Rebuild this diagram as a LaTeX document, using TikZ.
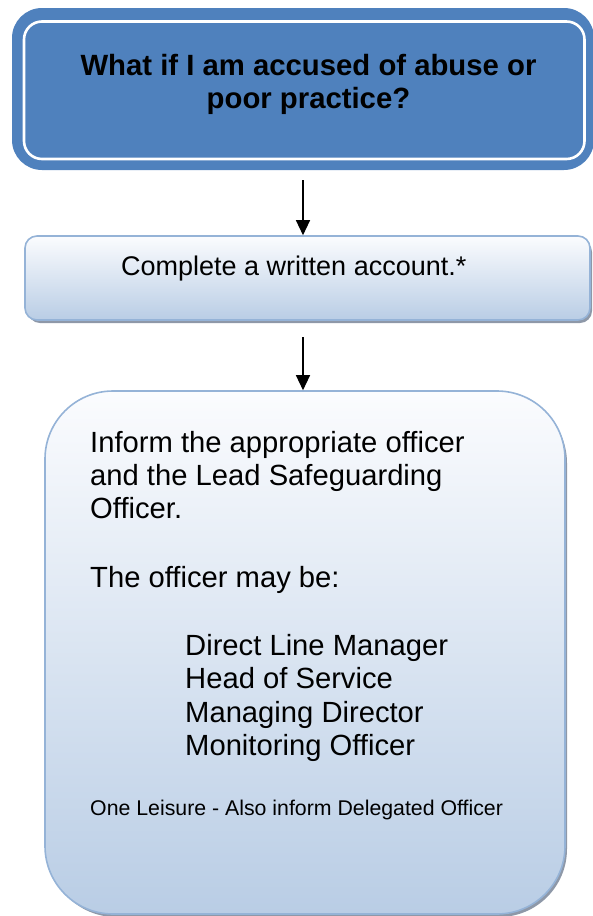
\documentclass[tikz,border=0pt]{standalone}
\usepackage{fontspec}
\setmainfont{Liberation Sans}
\usetikzlibrary{arrows.meta}
\definecolor{hdrblue}{HTML}{4F81BD}
\definecolor{edgeblue}{HTML}{95B3D7}
\definecolor{lowblue}{HTML}{B9CDE5}
\definecolor{topwhite}{HTML}{FBFCFE}
\definecolor{shadowgrey}{HTML}{8E98A8}
\tikzset{
  flowarrow/.style={line width=1.3pt, -{Triangle[length=15pt,width=14pt]}},
  lightbox/.style={draw=edgeblue, line width=1.6pt, top color=topwhite, bottom color=lowblue, inner sep=0pt},
  shadowfill/.style={fill=shadowgrey},
  titletext/.style={anchor=base, inner sep=0pt, font=\fontsize{29.3}{33}\selectfont\bfseries},
  bodytext/.style={anchor=base west, inner sep=0pt, font=\fontsize{29.2}{33}\selectfont},
  smalltext/.style={anchor=base west, inner sep=0pt, font=\fontsize{21.3}{24}\selectfont}
}
\begin{document}
\begin{tikzpicture}[x=1pt,y=-1pt]
\useasboundingbox (0,0) rectangle (593,916);
% header box
\node[fill=hdrblue, rounded corners=30pt, minimum width=582pt, minimum height=162pt, inner sep=0pt] (q) at (303,89) {};
\draw[white, line width=2.6pt, rounded corners=18pt] (24,21.5) rectangle (584.5,159);
\node[titletext] (q1) at (308.5,75) {What if I am accused of abuse or};
\node[titletext] (q2) at (308.5,108) {poor practice?};
% second box
\fill[shadowfill, rounded corners=12pt] (28,240) rectangle (592,323);
\node[lightbox, rounded corners=12pt, minimum width=565pt, minimum height=84pt] (b) at (307.5,278) {};
\node[bodytext, font=\fontsize{27}{31}\selectfont] (b1) at (121,275) {Complete a written account.*};
% third box
\fill[shadowfill, rounded corners=68pt] (48,395) rectangle (567,917);
\node[lightbox, rounded corners=68pt, minimum width=520pt, minimum height=523pt] (c) at (305,652.5) {};
\node[bodytext] (c1) at (90,452) {Inform the appropriate officer};
\node[bodytext] (c2) at (90,485) {and the Lead Safeguarding};
\node[bodytext] (c3) at (90,518) {Officer.};
\node[bodytext] (c4) at (90,587) {The officer may be:};
\node[bodytext] (c5) at (185,655) {Direct Line Manager};
\node[bodytext] (c6) at (185,688) {Head of Service};
\node[bodytext] (c7) at (185,722) {Managing Director};
\node[bodytext] (c8) at (185,755) {Monitoring Officer};
\node[smalltext] (c9) at (90,815) {One Leisure - Also inform Delegated Officer};
% arrows
\coordinate (a1) at (303,180);
\coordinate (a2) at (303,337);
\draw[flowarrow] (a1) -- (a1 |- b.north);
\draw[flowarrow] (a2) -- (a2 |- c.north);
\end{tikzpicture}
\end{document}
